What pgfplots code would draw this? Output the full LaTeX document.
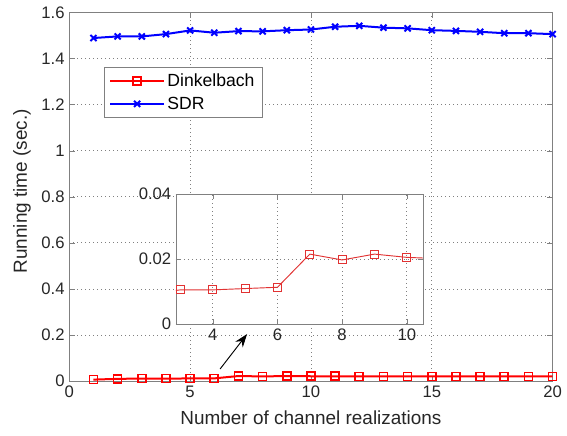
\documentclass[border=0pt]{standalone}
\usepackage{fontspec}
\setmainfont{Liberation Sans}
\usepackage{pgfplots}
\pgfplotsset{compat=1.18}
\usepackage{pgfplotstable}
\usetikzlibrary{arrows.meta}

% Running time per channel realization
\pgfplotstableread{
n   dink     sdr
1   0.0060   1.489
2   0.0092   1.496
3   0.0105   1.496
4   0.0105   1.506
5   0.0109   1.522
6   0.0113   1.512
7   0.0215   1.519
8   0.0197   1.518
9   0.0215   1.523
10  0.0205   1.526
11  0.0201   1.538
12  0.0199   1.542
13  0.0198   1.534
14  0.0199   1.531
15  0.0198   1.523
16  0.0197   1.520
17  0.0197   1.516
18  0.0196   1.510
19  0.0197   1.510
20  0.0196   1.506
}\runtime

\definecolor{mred}{RGB}{255,0,0}
\definecolor{mblue}{RGB}{0,0,255}
\definecolor{insetred}{RGB}{225,50,50}

\pgfplotsset{
  matlab/.style={
    scale only axis,
    axis line style={black!50},
    tick style={black!50},
    tick align=inside,
    major tick length=4pt,
    grid=major,
    grid style={black!50, line width=0.5pt, dash pattern=on 0.75pt off 2.25pt},
    tick label style={font=\fontsize{12.5}{14}\selectfont, text=black!85},
    /pgf/number format/assume math mode=true,
  }
}

\begin{document}
\begin{tikzpicture}
\begin{axis}[
  matlab,
  at={(0,0)}, anchor=south west,
  width=362.5pt, height=276.4pt,
  xmin=0, xmax=20, ymin=0, ymax=1.6,
  xtick={0,5,...,20},
  ytick={0,0.2,...,1.6},
  yticklabel style={/pgf/number format/fixed, /pgf/number format/precision=1},
  xlabel={Number of channel realizations},
  ylabel={Running time (sec.)},
  label style={font=\fontsize{14.2}{16}\selectfont, text=black!85},
  xlabel style={at={(axis description cs:0.5,-0.1)}, anchor=center},
  ylabel style={at={(axis description cs:-0.098,0.515)}, anchor=center},
  legend style={
    at={(axis cs:1.43,1.363)}, anchor=north west,
    draw=black!50, fill=white,
    font=\fontsize{13.2}{15}\selectfont,
    row sep=2pt, inner xsep=4pt, inner ysep=3pt,
  },
  legend cell align=left,
  legend image code/.code={%
    \draw[mark repeat=2, mark phase=2] plot coordinates {(0pt,0pt) (20pt,0pt) (40pt,0pt)};},
]
\addplot[mred, line width=1.5pt, mark=square, mark size=3pt,
  mark options={solid, line width=1.3pt}] table[x=n, y=dink] {\runtime};
\addlegendentry{Dinkelbach}
\addplot[mblue, line width=1.5pt, mark=x, mark size=3.2pt,
  mark options={solid, line width=1.5pt}] table[x=n, y=sdr] {\runtime};
\addlegendentry{SDR}
\draw[black, line width=0.7pt, -{Stealth[length=10pt, width=7pt]}]
  (axis cs:6.24,0.052) -- (axis cs:7.36,0.204);
\end{axis}

% zoomed view of the Dinkelbach curve
\begin{axis}[
  matlab,
  at={(80pt,42.75pt)}, anchor=south west,
  width=185.25pt, height=97.5pt,
  axis background/.style={fill=white},
  xmin=2.86, xmax=10.5, ymin=0, ymax=0.04,
  xtick={4,6,8,10},
  ytick={0,0.02,0.04},
  scaled y ticks=false,
  yticklabel style={/pgf/number format/fixed, /pgf/number format/precision=2},
  clip=true,
]
\addplot[insetred, line width=0.7pt, mark=square, mark size=3pt,
  mark options={solid, line width=0.7pt}] table[x=n, y=dink] {\runtime};
\end{axis}

\pgfresetboundingbox
\path[use as bounding box] (-51.98pt,-41.25pt) rectangle (373.3pt,285.75pt);
\end{tikzpicture}
\end{document}
